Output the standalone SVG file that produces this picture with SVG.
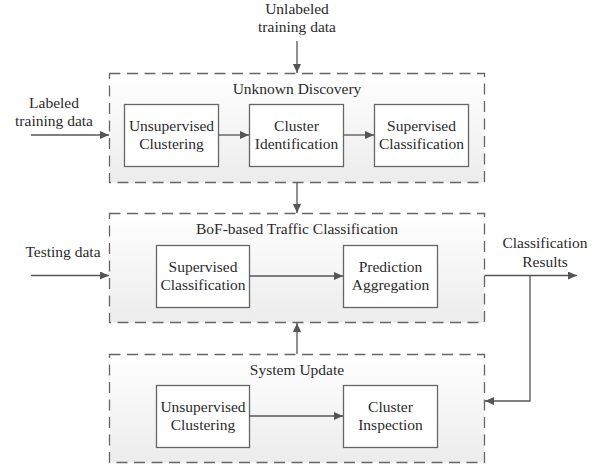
<svg xmlns="http://www.w3.org/2000/svg" width="608" height="466" viewBox="0 0 608 466">
<style>
text{font-family:"Liberation Serif","Times New Roman",serif;font-size:15.5px;fill:#2b2b2b;text-anchor:middle}
.grp{fill:url(#bg);stroke:#666;stroke-width:1.3;stroke-dasharray:11 6.5}
.box{fill:#fff;stroke:#666;stroke-width:1.3}
.ln{fill:none;stroke:#555;stroke-width:1.3;marker-end:url(#ah)}
</style>
<defs>
<linearGradient id="bg" x1="0" y1="0" x2="0" y2="1">
<stop offset="0" stop-color="#ffffff"/>
<stop offset="1" stop-color="#ececec"/>
</linearGradient>
<marker id="ah" markerWidth="10" markerHeight="8" refX="9" refY="4" orient="auto" markerUnits="userSpaceOnUse">
<path d="M0,0 L9,4 L0,8 Z" fill="#555"/>
</marker>
</defs>

<g id="unknown-discovery">
<rect class="grp" x="109.5" y="73.5" width="375" height="109"/>
<text x="297" y="94">Unknown Discovery</text>
</g>
<g id="ud-unsupervised-clustering">
<rect class="box" x="124.5" y="104.5" width="94" height="62"/>
<text x="171.5" y="131">Unsupervised</text>
<text x="171.5" y="149">Clustering</text>
</g>
<g id="ud-cluster-identification">
<rect class="box" x="249.5" y="104.5" width="94" height="62"/>
<text x="296.5" y="131">Cluster</text>
<text x="296.5" y="149">Identification</text>
</g>
<g id="ud-supervised-classification">
<rect class="box" x="374.5" y="104.5" width="94" height="62"/>
<text x="421.5" y="131">Supervised</text>
<text x="421.5" y="149">Classification</text>
</g>

<g id="bof-classification">
<rect class="grp" x="109.5" y="213.5" width="375" height="109"/>
<text x="297" y="234">BoF-based Traffic Classification</text>
</g>
<g id="bof-supervised-classification">
<rect class="box" x="156.5" y="245.5" width="93" height="62"/>
<text x="203" y="272">Supervised</text>
<text x="203" y="290">Classification</text>
</g>
<g id="bof-prediction-aggregation">
<rect class="box" x="343.5" y="245.5" width="94" height="62"/>
<text x="390.5" y="272">Prediction</text>
<text x="390.5" y="290">Aggregation</text>
</g>

<g id="system-update">
<rect class="grp" x="109.5" y="354.5" width="375" height="108"/>
<text x="297" y="375">System Update</text>
</g>
<g id="su-unsupervised-clustering">
<rect class="box" x="156.5" y="385.5" width="93" height="62"/>
<text x="203" y="412">Unsupervised</text>
<text x="203" y="430">Clustering</text>
</g>
<g id="su-cluster-inspection">
<rect class="box" x="343.5" y="385.5" width="94" height="62"/>
<text x="390.5" y="412">Cluster</text>
<text x="390.5" y="430">Inspection</text>
</g>

<g id="labels">
<text x="297" y="14">Unlabeled</text>
<text x="297" y="32">training data</text>
<text x="54" y="108">Labeled</text>
<text x="54" y="126">training data</text>
<text x="63" y="257">Testing data</text>
<text x="545" y="248">Classification</text>
<text x="545" y="267">Results</text>
</g>

<g id="connectors">
<path class="ln" d="M297,41 V73"/>
<path class="ln" d="M31,135 H109"/>
<path class="ln" d="M218.5,135 H249"/>
<path class="ln" d="M343.5,135 H374"/>
<path class="ln" d="M297,182.5 V213"/>
<path class="ln" d="M31,275.5 H109"/>
<path class="ln" d="M249.5,276 H343"/>
<path class="ln" d="M484.5,275.5 H577"/>
<path class="ln" d="M530,275.5 V401 H485"/>
<path class="ln" d="M297,354 V323"/>
<path class="ln" d="M249.5,416 H343"/>
</g>
</svg>
